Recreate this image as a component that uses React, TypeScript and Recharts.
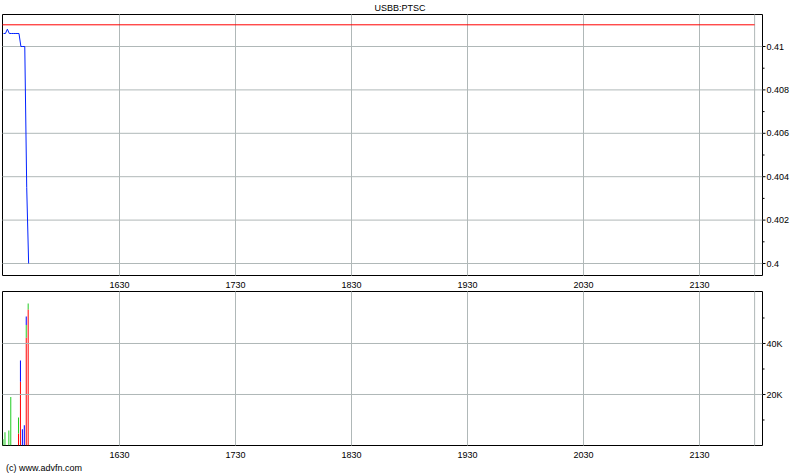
import React from "react";
import {
  LineChart,
  BarChart,
  Line,
  Bar,
  XAxis,
  YAxis,
  ReferenceLine,
  ReferenceArea,
} from "recharts";

// minutes since midnight (930 = 15:30)
const priceTimes = [930, 931, 932, 933, 934, 935, 936, 937, 938, 939, 940, 941, 942, 943];
const priceValues = [
  0.4106, 0.4106, 0.4108, 0.4106, 0.4106, 0.4106, 0.4106, 0.4106, 0.4106, 0.41, 0.41, 0.41,
  0.4035, 0.4,
];
const prevClose = 0.411;

const volumeTimes = [930, 931, 933, 934, 938, 939, 940, 941, 942, 943];
const volumeRed = [0, 0, 0, 0, 4700, 25000, 0, 0, 42300, 53300];
const volumeGreen = [2500, 5200, 5900, 19000, 6300, 0, 0, 0, 5000, 2400];
const volumeBlue = [0, 0, 0, 0, 0, 8300, 6400, 7900, 3300, 0];

const timeTicks = [990, 1050, 1110, 1170, 1230, 1290];
const timeLabels = ["1630", "1730", "1830", "1930", "2030", "2130"];
const sessionEnd = 1318.5;
const timeDomain = [929.48, 1322.58];

const priceMajor = [0.4, 0.402, 0.404, 0.406, 0.408, 0.41];
const priceLabels = ["0.4", "0.402", "0.404", "0.406", "0.408", "0.41"];
const priceMinor = [0.401, 0.403, 0.405, 0.407, 0.409];
const priceDomain = [0.399447, 0.411475];

const volumeMajor = [20000, 40000];
const volumeLabels = ["20K", "40K"];
const volumeMinor = [10000, 30000, 50000];
const volumeDomain = [0, 60392];

const FONT = '"Liberation Sans", Arial, sans-serif';
const GRID = "#b0b8b8";

const priceData = priceTimes.map((t, i) => ({ t, price: priceValues[i] }));
const volumeData = volumeTimes.map((t, i) => ({
  t,
  red: volumeRed[i],
  green: volumeGreen[i],
  blue: volumeBlue[i],
}));

function makeRightTick(majors: number[], labels: string[]) {
  return (props: any) => {
    const { x, y, payload } = props;
    const i = majors.indexOf(payload.value);
    if (i < 0) {
      return <line x1={x} x2={x + 2} y1={y} y2={y} stroke="#000" />;
    }
    return (
      <g>
        <line x1={x} x2={x + 3} y1={y} y2={y} stroke="#000" />
        <text x={x + 4} y={y} dy="0.355em" textAnchor="start" fontSize={9} fontFamily={FONT} fill="#000">
          {labels[i]}
        </text>
      </g>
    );
  };
}

function TimeTick(props: any) {
  const { x, y, payload } = props;
  const i = timeTicks.indexOf(payload.value);
  return (
    <text x={x} y={y + 12} textAnchor="middle" fontSize={9} fontFamily={FONT} fill="#000">
      {i >= 0 ? timeLabels[i] : ""}
    </text>
  );
}

const PriceTick = makeRightTick(priceMajor, priceLabels);
const VolumeTick = makeRightTick(volumeMajor, volumeLabels);

export default function App() {
  return (
    <div style={{ position: "absolute", left: 0, top: 0, width: 800, height: 475, background: "#fff" }}>
      <div
        style={{
          position: "absolute",
          top: 2,
          left: 0,
          width: 800,
          textAlign: "center",
          fontSize: 9,
          lineHeight: "12px",
          fontFamily: FONT,
        }}
      >
        USBB:PTSC
      </div>

      <div style={{ position: "absolute", top: 0, left: 0 }}>
        <LineChart width={800} height={290} data={priceData} margin={{ top: 14.5, right: 0, left: 2.5, bottom: 0 }}>
          <XAxis
            dataKey="t"
            type="number"
            domain={timeDomain}
            ticks={timeTicks}
            allowDataOverflow
            height={14.5}
            tickSize={0}
            tickMargin={0}
            axisLine={false}
            tickLine={false}
            tick={<TimeTick />}
            interval={0}
          />
          <YAxis
            orientation="right"
            type="number"
            domain={priceDomain}
            ticks={[...priceMajor, ...priceMinor].sort((a, b) => a - b)}
            allowDataOverflow
            width={37.5}
            tickSize={0}
            tickMargin={0}
            axisLine={false}
            tickLine={false}
            tick={PriceTick}
            interval={0}
          />
          {[...timeTicks, sessionEnd].map((t) => (
            <ReferenceLine key={"vx" + t} x={t} stroke={GRID} />
          ))}
          {priceMajor.map((v) => (
            <ReferenceLine key={"hy" + v} y={v} stroke={GRID} />
          ))}
          <ReferenceLine
            segment={[
              { x: timeDomain[0], y: prevClose },
              { x: sessionEnd, y: prevClose },
            ]}
            stroke="#ff0000"
          />
          <Line
            type="linear"
            dataKey="price"
            stroke="#0022ff"
            strokeWidth={1}
            dot={false}
            isAnimationActive={false}
          />
          <ReferenceArea
            x1={timeDomain[0]}
            x2={timeDomain[1]}
            y1={priceDomain[0]}
            y2={priceDomain[1]}
            stroke="#000"
            fill="none"
            fillOpacity={0}
          />
        </LineChart>
      </div>

      <div style={{ position: "absolute", top: 277, left: 0 }}>
        <BarChart width={800} height={183} data={volumeData} margin={{ top: 14.5, right: 0, left: 2.5, bottom: 0 }}>
          <XAxis
            dataKey="t"
            type="number"
            domain={timeDomain}
            ticks={timeTicks}
            allowDataOverflow
            height={14.5}
            tickSize={0}
            tickMargin={0}
            axisLine={false}
            tickLine={false}
            tick={<TimeTick />}
            interval={0}
          />
          <YAxis
            orientation="right"
            type="number"
            domain={volumeDomain}
            ticks={[...volumeMajor, ...volumeMinor].sort((a, b) => a - b)}
            allowDataOverflow
            width={37.5}
            tickSize={0}
            tickMargin={0}
            axisLine={false}
            tickLine={false}
            tick={VolumeTick}
            interval={0}
          />
          {[...timeTicks, sessionEnd].map((t) => (
            <ReferenceLine key={"vx" + t} x={t} stroke={GRID} />
          ))}
          {volumeMajor.map((v) => (
            <ReferenceLine key={"hy" + v} y={v} stroke={GRID} />
          ))}
          <Bar dataKey="red" stackId="v" fill="#ff0000" barSize={1} isAnimationActive={false} />
          <Bar dataKey="green" stackId="v" fill="#22cc22" barSize={1} isAnimationActive={false} />
          <Bar dataKey="blue" stackId="v" fill="#0000ff" barSize={1} isAnimationActive={false} />
          <ReferenceArea
            x1={timeDomain[0]}
            x2={timeDomain[1]}
            y1={volumeDomain[0]}
            y2={volumeDomain[1]}
            stroke="#000"
            fill="none"
            fillOpacity={0}
          />
        </BarChart>
      </div>

      <div
        style={{
          position: "absolute",
          top: 462,
          left: 6,
          fontSize: 9,
          lineHeight: "12px",
          fontFamily: FONT,
        }}
      >
        (c) www.advfn.com
      </div>
    </div>
  );
}
